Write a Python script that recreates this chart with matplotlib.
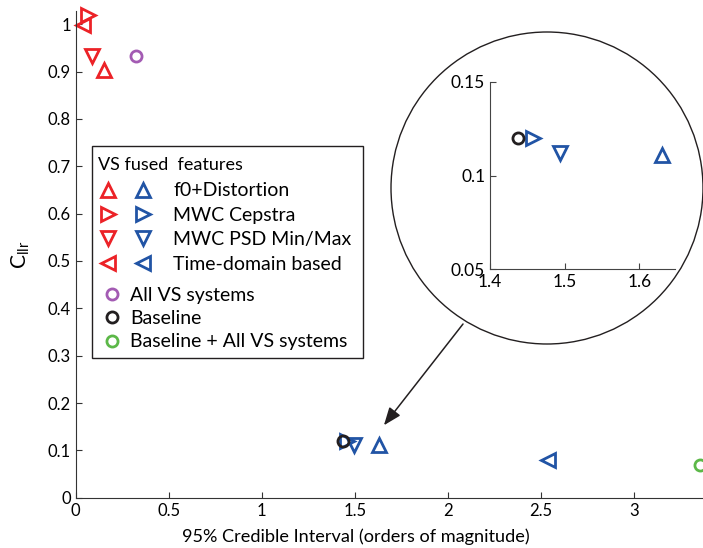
import matplotlib
matplotlib.use("Agg")
import matplotlib.pyplot as plt
from matplotlib.patches import Ellipse, Rectangle
from matplotlib.legend_handler import HandlerTuple

plt.rcParams['font.family'] = ['Lato', 'DejaVu Sans']
plt.rcParams['font.size'] = 12

# data
shapes = ['^', '>', 'v', '<']
features = ['f0+Distortion', 'MWC Cepstra', 'MWC PSD Min/Max', 'Time-domain based']
red_x = [0.153, 0.066, 0.088, 0.040]
red_y = [0.903, 1.019, 0.934, 0.998]
blue_x = [1.630, 1.457, 1.494, 2.540]
blue_y = [0.111, 0.120, 0.112, 0.080]
circle_names = ['All VS systems', 'Baseline', 'Baseline + All VS systems']
circle_x = [0.324, 1.437, 3.355]
circle_y = [0.933, 0.120, 0.069]

RED = '#ec2227'
BLUE = '#2154a5'
circle_colors = ['#a35bb3', '#231f20', '#5cb848']

W, H = 703, 548


def fx(px):
    return px / W


def fy(py):
    return 1 - py / H


fig = plt.figure(figsize=(W / 100, H / 100), dpi=100)
ax = fig.add_axes([fx(75.7), fy(497.7), fx(702) - fx(75.7), fy(11) - fy(497.7)])

tri = dict(linestyle='none', markersize=9.5, markeredgewidth=2, markerfacecolor='none', clip_on=False)
red_handles, blue_handles = [], []
for m, xr, yr, xb, yb in zip(shapes, red_x, red_y, blue_x, blue_y):
    red_handles.append(ax.plot(xr, yr, marker=m, markeredgecolor=RED, **tri)[0])
    blue_handles.append(ax.plot(xb, yb, marker=m, markeredgecolor=BLUE, **tri)[0])

circ = dict(linestyle='none', marker='o', markersize=8, markeredgewidth=2, markerfacecolor='none')
circle_handles = []
for x, y, c in zip(circle_x, circle_y, circle_colors):
    circle_handles.append(ax.plot(x, y, markeredgecolor=c, **circ)[0])

ax.set_xlim(0, 3.367)
ax.set_ylim(0, 1.028)
ax.set_xticks([0, 0.5, 1, 1.5, 2, 2.5, 3])
ax.set_xticklabels(['0', '0.5', '1', '1.5', '2', '2.5', '3'])
ax.set_yticks([i / 10 for i in range(11)])
ax.set_yticklabels(['0'] + ['0.%d' % i for i in range(1, 10)] + ['1'])
ax.tick_params(direction='in', length=4, color='#333333', labelsize=12)
for s in ['top', 'right']:
    ax.spines[s].set_visible(False)
for s in ['left', 'bottom']:
    ax.spines[s].set_color('#333333')
ax.set_xlabel('95% Credible Interval (orders of magnitude)', fontsize=13.1)
ax.xaxis.set_label_coords(0.448, -0.063)
ax.set_ylabel(r'$\mathregular{C_{llr}}$', fontsize=15)
ax.yaxis.set_label_coords(-0.07, 0.499)

# arrow from the magnifier to the cluster
ax.annotate('', xy=(1.657, 0.153), xytext=(fx(463), fy(324)),
            textcoords='figure fraction', annotation_clip=False,
            arrowprops=dict(arrowstyle='-|>,head_length=0.9,head_width=0.35',
                            color='#231f20', lw=1.1, shrinkA=0, shrinkB=0))

# magnifier circle + inset axes
lens = Ellipse((fx(547), fy(188)), 312 / W, 312 / H, transform=fig.transFigure,
               facecolor='white', edgecolor='#231f20', lw=1, zorder=2)
fig.add_artist(lens)
ins = fig.add_axes([fx(490), fy(269), fx(675) - fx(490), fy(82) - fy(269)])
ins.set_zorder(3)
ins.patch.set_alpha(0)
for m, xb, yb in zip(shapes, blue_x, blue_y):
    ins.plot(xb, yb, marker=m, markeredgecolor=BLUE, **tri)
ins.plot(circle_x[1], circle_y[1], markeredgecolor=circle_colors[1], **circ)
ins.set_xlim(1.4, 1.648)
ins.set_ylim(0.05, 0.15)
ins.set_xticks([1.4, 1.5, 1.6])
ins.set_xticklabels(['1.4', '1.5', '1.6'])
ins.set_yticks([0.05, 0.1, 0.15])
ins.set_yticklabels(['0.05', '0.1', '0.15'])
ins.tick_params(direction='in', length=4, color='#444444', labelsize=12.5)
for s in ['top', 'right']:
    ins.spines[s].set_visible(False)
for s in ['left', 'bottom']:
    ins.spines[s].set_color('#444444')

# legend box
box = Rectangle((fx(92), fy(358)), fx(363) - fx(92), fy(146) - fy(358), transform=fig.transFigure,
                facecolor='white', edgecolor='#231f20', lw=1, zorder=4)
fig.add_artist(box)
fig.text(fx(98), fy(165), 'VS fused  features', fontsize=13, va='center', ha='left', zorder=6)

leg1 = fig.legend(list(zip(red_handles, blue_handles)), features,
                  handler_map={tuple: HandlerTuple(ndivide=None, pad=0)},
                  loc='upper left', bbox_to_anchor=(fx(90.5), fy(182.5)), bbox_transform=fig.transFigure,
                  frameon=False, fontsize=14, borderpad=0, borderaxespad=0,
                  handlelength=3.6, handletextpad=0.65, labelspacing=0.38)
leg1.set_zorder(6)
leg2 = fig.legend(circle_handles, circle_names,
                  loc='upper left', bbox_to_anchor=(fx(103), fy(286.5)), bbox_transform=fig.transFigure,
                  frameon=False, fontsize=14, borderpad=0, borderaxespad=0,
                  handlelength=0.93, handletextpad=0.46, labelspacing=0.33)
leg2.set_zorder(6)

fig.savefig('out.png', dpi=100)
